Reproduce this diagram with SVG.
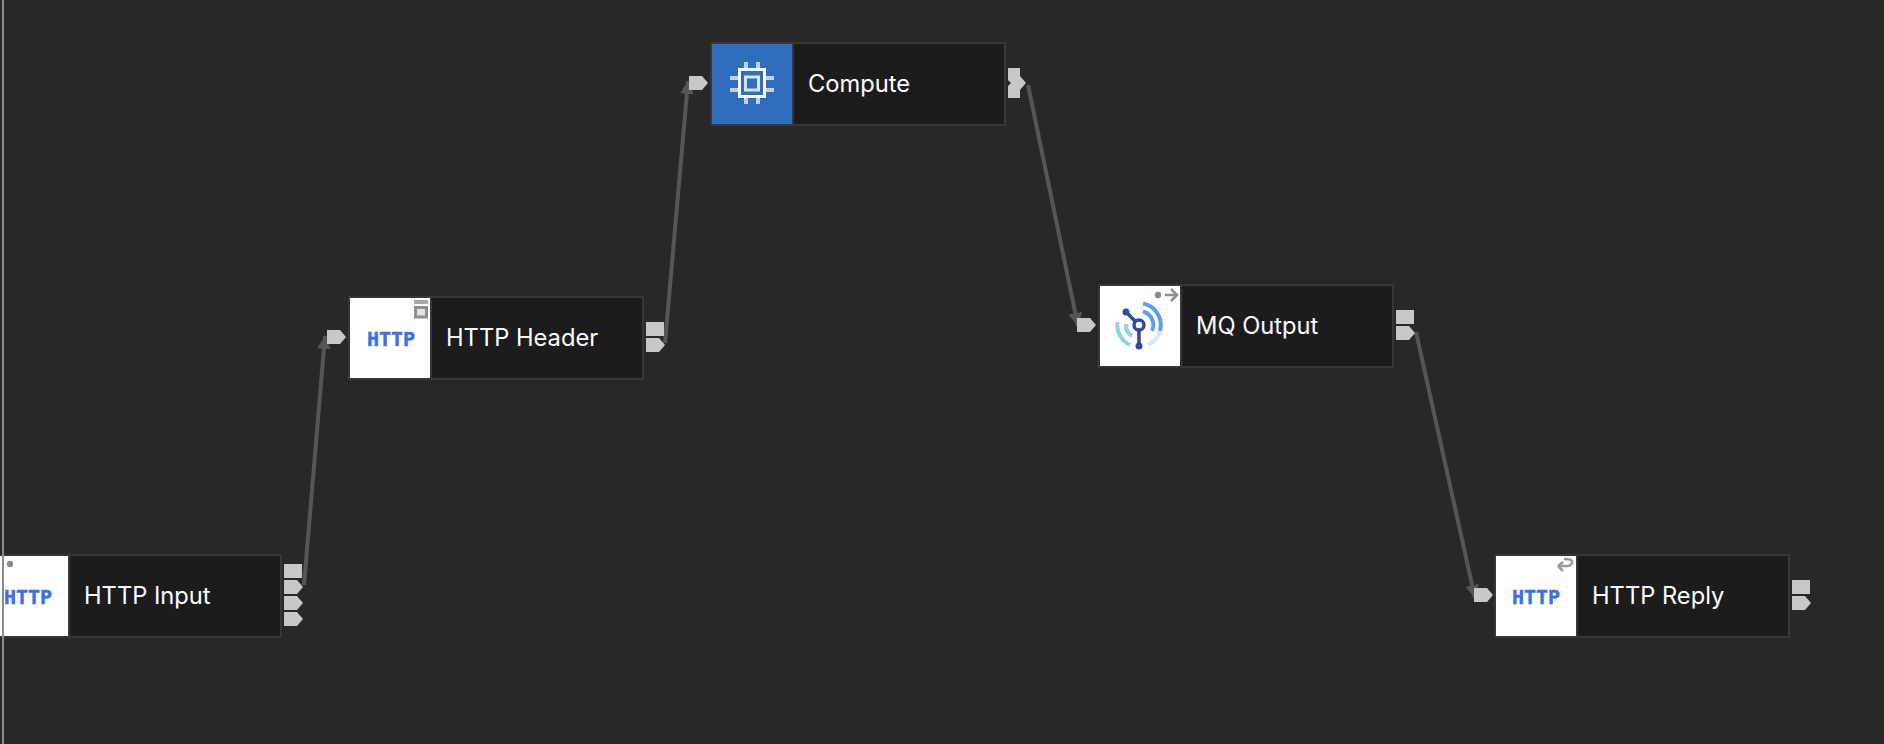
<svg xmlns="http://www.w3.org/2000/svg" width="1884" height="744" viewBox="0 0 1884 744">
<style>
.frame{fill:#1c1c1c;stroke:#373737;stroke-width:2}
.sep{fill:#373737}
.port{fill:#c8c8c8}
.label{font-family:Inter,"Liberation Sans",sans-serif;font-size:23.7px;fill:#fff}
.http{font-family:"DejaVu Sans Mono",monospace;font-weight:700;font-size:20px;fill:#3a6ff2;stroke:#3a6ff2;stroke-width:.4}
.icon{fill:#fff}
.conn{fill:none;stroke:#565656;stroke-width:4;marker-end:url(#arrow)}
.badge{fill:#e4e4e4;stroke:#8f8f8f;stroke-width:3}
.pin{stroke:#bcd3ee;stroke-width:4}
</style>
<defs>
<marker id="arrow" markerUnits="userSpaceOnUse" markerWidth="14" markerHeight="14" refX="13" refY="7" orient="auto"><path d="M0 0L13 7L0 14Z" fill="#565656"/></marker>
<polygon id="sq" class="port" points="0,0 18,0 18,14 0,14"/>
<polygon id="pt" class="port" points="0,0 13,0 19,7 13,14 0,14"/>
</defs>
<rect width="1884" height="744" fill="#282828"/>
<g id="connectors">
<path class="conn" d="M304 585L325 336"/>
<path class="conn" d="M665 343L688 81"/>
<path class="conn" d="M1028 85L1078 326"/>
<path class="conn" d="M1416 332L1475 598"/>
</g>
<g id="node-http-input">
<rect class="frame" x="-14" y="555" width="295" height="82"/>
<rect class="icon" x="-12" y="556" width="80" height="80"/>
<rect class="sep" x="68" y="556" width="2" height="80"/>
<circle cx="10" cy="564" r="3.2" fill="#8a8a8a"/>
<text class="http" x="4" y="604">HTTP</text>
<text class="label" x="84" y="604">HTTP Input</text>
<use href="#sq" x="284" y="564"/><use href="#pt" x="284" y="580"/><use href="#pt" x="284" y="596"/><use href="#pt" x="284" y="612"/>
</g>
<g id="node-http-header">
<rect class="frame" x="349" y="297" width="294" height="82"/>
<rect class="icon" x="350" y="298" width="80" height="80"/>
<rect class="sep" x="430" y="298" width="2" height="80"/>
<rect x="414" y="300" width="14" height="4" fill="#a8a8a8"/>
<rect class="badge" x="415.500" y="307.500" width="11" height="9.500"/>
<text class="http" x="367" y="346">HTTP</text>
<text class="label" x="446" y="346">HTTP Header</text>
<use href="#pt" x="327" y="330"/>
<use href="#sq" x="646" y="322"/><use href="#pt" x="646" y="338"/>
</g>
<g id="node-compute">
<rect class="frame" x="711" y="43" width="294" height="82"/>
<rect x="712" y="44" width="80" height="80" fill="#2e6fbd"/>
<rect class="sep" x="792" y="44" width="2" height="80"/>
<g fill="none">
<path class="pin" d="M746 62V68M758 62V68M746 98V104M758 98V104M730 78H738M730 90H738M766 78H774M766 90H774"/>
<rect x="739.500" y="69.500" width="25" height="27" stroke="#fff" stroke-width="3"/>
<rect x="745.500" y="77" width="13" height="13" stroke="#d6e4f5" stroke-width="3"/>
</g>
<text class="label" x="808" y="92">Compute</text>
<use href="#pt" x="689" y="76"/>
<polygon class="port" points="1008,68 1020,68 1020,76 1026,83 1020,90 1020,98 1008,98 1008,86 1011,83 1008,80"/>
</g>
<g id="node-mq-output">
<rect class="frame" x="1099" y="285" width="294" height="82"/>
<rect class="icon" x="1100" y="286" width="80" height="80"/>
<rect class="sep" x="1180" y="286" width="2" height="80"/>
<circle cx="1158" cy="295" r="3.2" fill="#8a8a8a"/>
<path d="M1165 295H1177M1171 289L1177 295L1171 301" fill="none" stroke="#8f8f8f" stroke-width="2.500"/>
<g fill="none" stroke-width="4">
<path d="M1143 303.500A22 22 0 0 1 1160 331" stroke="#5c9ff5"/>
<path d="M1143 311.500A14 14 0 0 1 1152 331" stroke="#5c9ff5"/>
<path d="M1160 331A22 22 0 0 1 1148 345" stroke="#d2e5fc"/>
<path d="M1117.500 322A22 22 0 0 0 1130 345" stroke="#8fd2e2"/>
<path d="M1126 324A13 13 0 0 0 1132 336" stroke="#8fd2e2"/>
</g>
<g stroke="#35479b" fill="none">
<path d="M1126 312L1135 321M1139 330V346" stroke-width="3.500"/>
<circle cx="1139" cy="325" r="5" stroke-width="3.500"/>
<circle cx="1126" cy="312" r="3.500" fill="#35479b" stroke="none"/>
<circle cx="1139" cy="346" r="3.500" fill="#35479b" stroke="none"/>
</g>
<text class="label" x="1196" y="334">MQ Output</text>
<use href="#pt" x="1077" y="318"/>
<use href="#sq" x="1396" y="310"/><use href="#pt" x="1396" y="326"/>
</g>
<g id="node-http-reply">
<rect class="frame" x="1495" y="555" width="294" height="82"/>
<rect class="icon" x="1496" y="556" width="80" height="80"/>
<rect class="sep" x="1576" y="556" width="2" height="80"/>
<path d="M1558 566H1568Q1573 565 1572 561Q1571 559 1564 559M1558 566L1563 562M1558 566L1563 571" fill="none" stroke="#9a9a9a" stroke-width="2.500"/>
<text class="http" x="1512" y="604">HTTP</text>
<text class="label" x="1592" y="604">HTTP Reply</text>
<use href="#pt" x="1474" y="588"/>
<use href="#sq" x="1792" y="580"/><use href="#pt" x="1792" y="596"/>
</g>
<rect x="2" y="0" width="2" height="744" fill="#8c8c8c"/>
</svg>
